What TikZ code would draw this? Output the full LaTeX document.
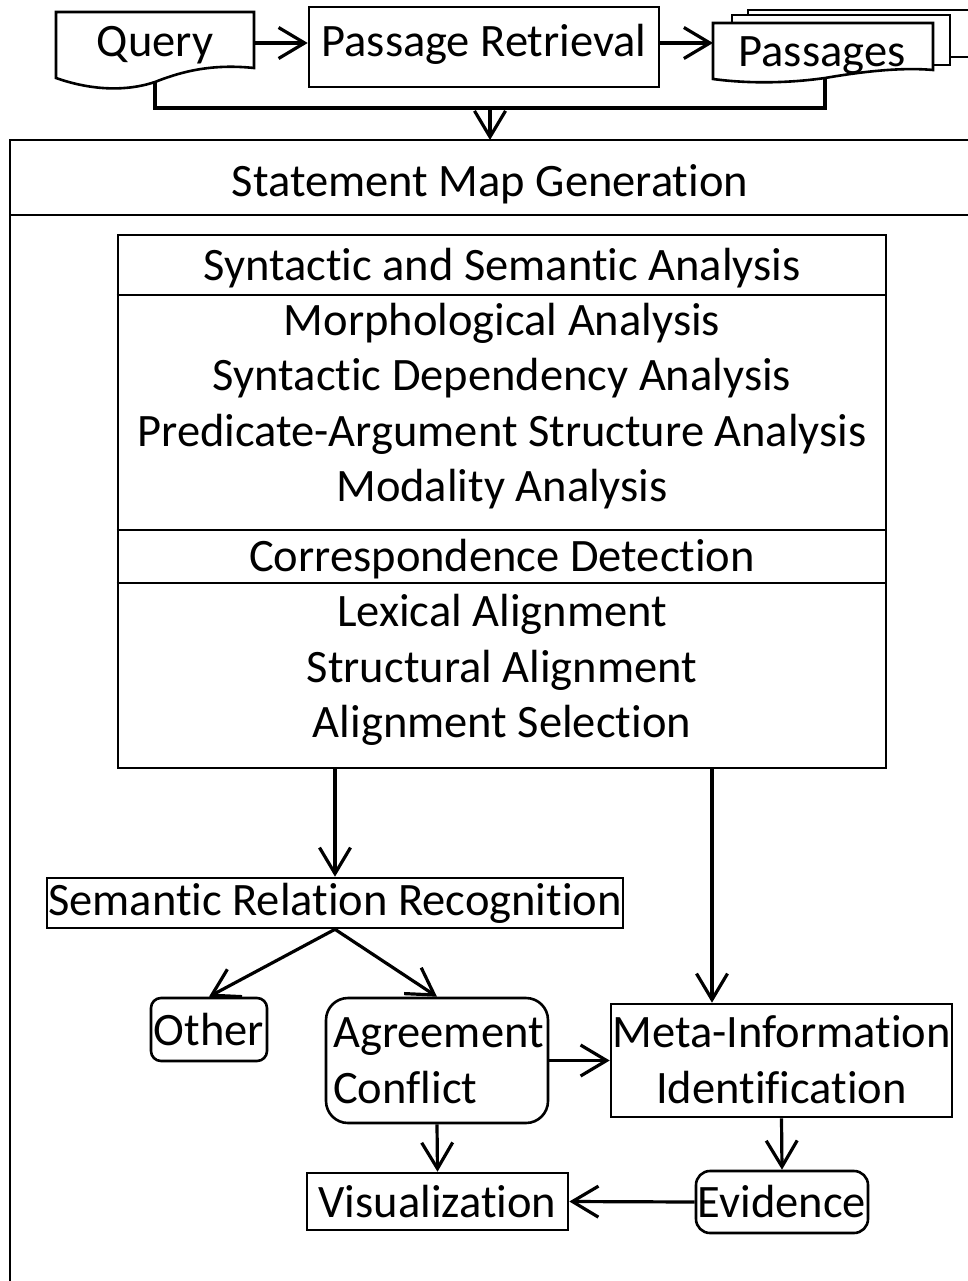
\documentclass[tikz,border=0pt]{standalone}
\usepackage{fontspec}
\setmainfont{Carlito}[Ligatures=NoCommon]
\usetikzlibrary{arrows.meta}
\begin{document}
\begin{tikzpicture}[x=1pt,y=-1pt,
  txt/.style={font=\fontsize{46.5}{55}\selectfont, inner sep=0pt, anchor=base},
  frame/.style={draw, line width=2.6pt, line join=miter},
  box/.style={frame, rectangle, inner sep=0pt},
  rbox/.style={box, rounded corners=#1},
  conn/.style={line width=3.2pt},
  arr/.style={conn, -{Straight Barb[length=26pt,width=31pt,line width=3.2pt]}}]
\useasboundingbox (0,0) rectangle (968,1281);
\clip (0,0) rectangle (968,1281);

% ---------- retrieval stage ----------
% Query document
\path[frame, fill=white] (56,12) -- (254,12) -- (254,68)
  .. controls (215,64) and (185,70) .. (155,82)
  .. controls (125,92) and (90,90) .. (56,78) -- cycle;
\node[txt] (query) at (155,57) {Query};
\coordinate (qR) at (254,43);
\coordinate (qB) at (155,82);

% Passage Retrieval
\node[box, minimum width=350pt, minimum height=80pt] (pr) at (484,47) {};
\node[txt] (prt) at (484,57) {Passage Retrieval};

% Passages (stack of documents)
\path[frame, fill=white] (748,10) rectangle (1000,57);
\path[frame, fill=white] (732,15) rectangle (950,65);
\path[frame, fill=white] (713,23) -- (933,23) -- (933,70)
  .. controls (900,67) and (860,72) .. (825,78)
  .. controls (790,83) and (750,84) .. (713,79) -- cycle;
\node[txt] (pass) at (822,67) {Passages};
\coordinate (pL) at (713,43);
\coordinate (pB) at (825,78);

\draw[arr] (qR) -- (qR -| pr.west);
\draw[arr] (pr.east |- qR) -- (pL);
\coordinate (join) at (490,108);
\draw[conn] (qB) |- (join) -| (pB);

% ---------- statement map generation ----------
\draw[frame] (1000,140) -- (10,140) -- (10,1300);
\draw[frame] (10,215) -- (1000,215);
\coordinate (smg) at (490,140);
\draw[arr] (join) -- (smg);
\node[txt] (smgt) at (490,197) {Statement Map Generation};

% analysis box
\node[box, minimum width=768pt, minimum height=533pt] (sa) at (502,501.5) {};
\draw[frame] (sa.west |- 0,295) -- (sa.east |- 0,295);
\draw[frame] (sa.west |- 0,530) -- (sa.east |- 0,530);
\draw[frame] (sa.west |- 0,583) -- (sa.east |- 0,583);
\node[txt] (s1) at (502,280) {Syntactic and Semantic Analysis};
\node[txt] (s2) at (502,335) {Morphological Analysis};
\node[txt] (s3) at (502,390) {Syntactic Dependency Analysis};
\node[txt] (s4) at (502,446) {Predicate-Argument Structure Analysis};
\node[txt] (s5) at (502,501) {Modality Analysis};
\node[txt] (c1) at (502,571) {Correspondence Detection};
\node[txt] (c2) at (502,626) {Lexical Alignment};
\node[txt] (c3) at (502,682) {Structural Alignment};
\node[txt] (c4) at (502,737) {Alignment Selection};

% lower nodes
\node[box, minimum width=576pt, minimum height=50pt] (srr) at (335,903) {};
\node[txt] (srrt) at (335,915) {Semantic Relation Recognition};

\node[rbox=10pt, minimum width=116pt, minimum height=63pt] (other) at (209,1029.5) {};
\node[txt] (othert) at (209,1045) {Other};

\node[rbox=22pt, minimum width=222pt, minimum height=125pt] (agree) at (437,1060.5) {};
\node[txt, anchor=base west] (agt) at (333,1047) {Agreement};
\node[txt, anchor=base west] (cot) at (333,1103) {Conflict};

\node[box, minimum width=341pt, minimum height=113pt] (meta) at (781.5,1060.5) {};
\node[txt] (mt1) at (781.5,1047) {Meta-Information};
\node[txt] (mt2) at (781.5,1103) {Identification};

\node[box, minimum width=261pt, minimum height=57pt] (vis) at (437.5,1201.5) {};
\node[txt] (vist) at (437.5,1217) {Visualization};

\node[rbox=14pt, minimum width=172pt, minimum height=62pt] (ev) at (782,1202) {};
\node[txt] (evt) at (782,1217) {Evidence};

% connectors
\draw[arr] (sa.south -| srr.north) -- (srr.north);
\draw[arr] ([xshift=210pt]sa.south) -- ([xshift=210pt]sa.south |- meta.north);
\draw[arr] (srr.south) -- (other.north);
\draw[arr] (srr.south) -- (agree.north);
\draw[arr] (agree.east) -- (meta.west);
\draw[arr] (agree.south) -- (vis.north);
\draw[arr] (meta.south) -- (ev.north);
\draw[arr] (ev.west) -- (vis.east);
\end{tikzpicture}
\end{document}
